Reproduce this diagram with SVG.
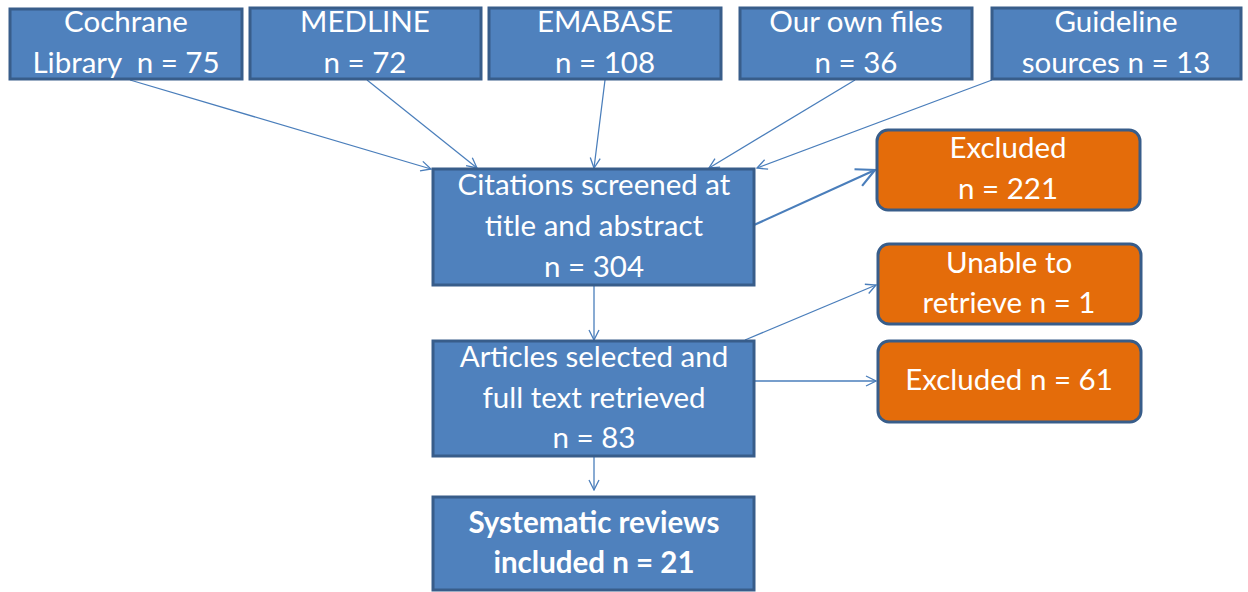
<svg xmlns="http://www.w3.org/2000/svg" width="1248" height="592" viewBox="0 0 1248 592">
<defs>
<marker id="arr" viewBox="0 0 12 12" refX="11" refY="6" markerWidth="12" markerHeight="12" markerUnits="userSpaceOnUse" orient="auto">
<path d="M1,1 L11,6 L1,11" fill="none" stroke="#4A7EBB" stroke-width="1.3"/>
</marker>
<marker id="arrB" viewBox="0 0 12 12" refX="11" refY="6" markerWidth="10" markerHeight="10" markerUnits="strokeWidth" orient="auto">
<path d="M1,1 L11,6 L1,11" fill="none" stroke="#4A7EBB" stroke-width="1.2"/>
</marker>
</defs>
<style>
.b{fill:#4F81BD;stroke:#385D8A;stroke-width:3}
.o{fill:#E46C0A;stroke:#385D8A;stroke-width:3}
text{font-family:Lato,"Open Sans",sans-serif;font-size:29.5px;fill:#FFFFFF;text-anchor:middle}
.bold{font-weight:bold}
.c{stroke:#4A7EBB;stroke-width:1.3;fill:none;marker-end:url(#arr)}
</style>
<rect width="1248" height="592" fill="#FFFFFF"/>
<g id="connectors">
<line class="c" x1="130" y1="80" x2="431" y2="169"/>
<line class="c" x1="367" y1="80" x2="477" y2="168"/>
<line class="c" x1="605" y1="80" x2="594" y2="168"/>
<line class="c" x1="855" y1="80" x2="709" y2="168"/>
<line class="c" x1="992" y1="80" x2="757" y2="168"/>
<line x1="754" y1="225" x2="875" y2="170" stroke="#4A7EBB" stroke-width="2.2" fill="none" marker-end="url(#arrB)"/>
<line class="c" x1="594" y1="286" x2="594" y2="340"/>
<line class="c" x1="745" y1="340" x2="876" y2="285"/>
<line class="c" x1="755" y1="381" x2="876" y2="381"/>
<line class="c" x1="594" y1="457" x2="594" y2="490"/>
</g>
<g id="cochrane"><rect class="b" x="10" y="9" width="232" height="70"/><text x="126" y="32">Cochrane</text><text x="126" y="73" xml:space="preserve">Library  n = 75</text></g>
<g id="medline"><rect class="b" x="250" y="8" width="231" height="71"/><text x="365" y="32">MEDLINE</text><text x="365" y="73">n = 72</text></g>
<g id="emabase"><rect class="b" x="489" y="8" width="232" height="71"/><text x="605" y="32">EMABASE</text><text x="605" y="73">n = 108</text></g>
<g id="ownfiles"><rect class="b" x="740" y="8" width="232" height="71"/><text x="856" y="32">Our own files</text><text x="856" y="73">n = 36</text></g>
<g id="guideline"><rect class="b" x="992" y="8" width="249" height="71"/><text x="1116" y="32">Guideline</text><text x="1116" y="73">sources n = 13</text></g>
<g id="citations"><rect class="b" x="433" y="169" width="321" height="116"/><text x="594" y="195">Citations screened at</text><text x="594" y="236">title and abstract</text><text x="594" y="277">n = 304</text></g>
<g id="excluded221"><rect class="o" x="877" y="130" width="263" height="80" rx="11"/><text x="1008" y="158">Excluded</text><text x="1008" y="199">n = 221</text></g>
<g id="unable"><rect class="o" x="878" y="244" width="263" height="80" rx="11"/><text x="1009" y="273">Unable to</text><text x="1009" y="313">retrieve n = 1</text></g>
<g id="excluded61"><rect class="o" x="878" y="341" width="263" height="81" rx="11"/><text x="1009" y="390">Excluded n = 61</text></g>
<g id="articles"><rect class="b" x="433" y="341" width="321" height="115"/><text x="594" y="367">Articles selected and</text><text x="594" y="408">full text retrieved</text><text x="594" y="448">n = 83</text></g>
<g id="systematic"><rect class="b" x="433" y="497" width="321" height="93"/><text class="bold" x="594" y="533">Systematic reviews</text><text class="bold" x="594" y="573">included n = 21</text></g>
</svg>
